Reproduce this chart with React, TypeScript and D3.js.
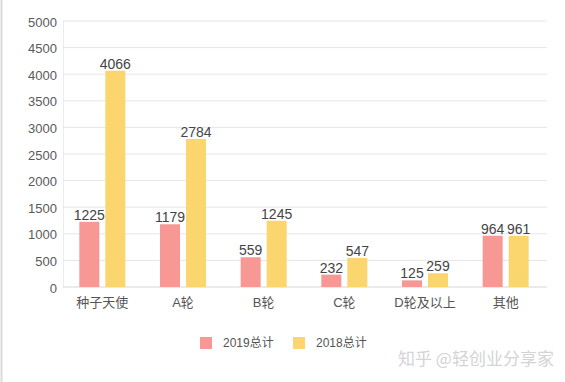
import React from "react";
import * as d3 from "d3";

const categories = ["种子天使", "A轮", "B轮", "C轮", "D轮及以上", "其他"];
const series2019 = [1225, 1179, 559, 232, 125, 964];
const series2018 = [4066, 2784, 1245, 547, 259, 961];
const seriesNames = ["2019总计", "2018总计"];
const colors = ["#f79894", "#fbd66e"];
const yTicks = [0, 500, 1000, 1500, 2000, 2500, 3000, 3500, 4000, 4500, 5000];

const W = 565;
const H = 382;
const margin = { left: 63, right: 18, top: 21, bottom: 95 };
const FONT = "'Liberation Sans', 'Noto Sans CJK SC', sans-serif";

export default function App() {
  const x = d3
    .scaleBand<string>()
    .domain(categories)
    .range([margin.left, W - margin.right]);
  const y = d3
    .scaleLinear()
    .domain([0, 5000])
    .range([H - margin.bottom, margin.top]);
  const barW = 20;
  const gap = 6;
  const all = [series2019, series2018];

  return (
    <svg
      width={W}
      height={H}
      style={{ position: "absolute", left: 0, top: 0, background: "#fff" }}
      fontFamily={FONT}
    >
      <rect x={0} y={0} width={W} height={H} fill="#fff" />
      <line x1={1.5} x2={1.5} y1={0} y2={H} stroke="#dadada" strokeWidth={2} />
      <line
        x1={margin.left + 0.5}
        x2={margin.left + 0.5}
        y1={y(5000)}
        y2={y(0)}
        stroke="#ececec"
        strokeWidth={1}
      />
      {yTicks.map((t) => (
        <g key={t}>
          <line
            x1={margin.left}
            x2={W - margin.right}
            y1={y(t)}
            y2={y(t)}
            stroke={t === 0 ? "#d6d6d6" : "#e6e6e6"}
            strokeWidth={1}
          />
          <text
            x={57}
            y={y(t) + 1}
            dy="0.35em"
            textAnchor="end"
            fontSize={13}
            fill="#5a5a5a"
          >
            {t}
          </text>
        </g>
      ))}
      {categories.map((c, i) => {
        const cx = (x(c) as number) + x.bandwidth() / 2 - 1;
        return (
          <g key={c}>
            {all.map((s, k) => {
              const bx = k === 0 ? cx - gap / 2 - barW : cx + gap / 2;
              return (
                <g key={k}>
                  <rect
                    x={bx}
                    y={y(s[i])}
                    width={barW}
                    height={y(0) - y(s[i])}
                    fill={colors[k]}
                  />
                  <text
                    x={bx + barW / 2}
                    y={y(s[i]) - 2}
                    textAnchor="middle"
                    fontSize={14}
                    fill="#444"
                  >
                    {s[i]}
                  </text>
                </g>
              );
            })}
            <text
              x={cx}
              y={307}
              textAnchor="middle"
              fontSize={13}
              fill="#555"
            >
              {c}
            </text>
          </g>
        );
      })}
      {seriesNames.map((n, k) => {
        const lx = [200, 293][k];
        return (
          <g key={n}>
            <rect x={lx} y={337} width={12} height={12} fill={colors[k]} />
            <text x={lx + 23} y={343} dy="0.35em" fontSize={12} fill="#555">
              {n}
            </text>
          </g>
        );
      })}
      <text
        x={398}
        y={359}
        dy="0.35em"
        fontSize={17}
        fill="#d4d4d4"
        fontFamily="'Noto Sans CJK SC', sans-serif"
      >
        知乎 @轻创业分享家
      </text>
    </svg>
  );
}
